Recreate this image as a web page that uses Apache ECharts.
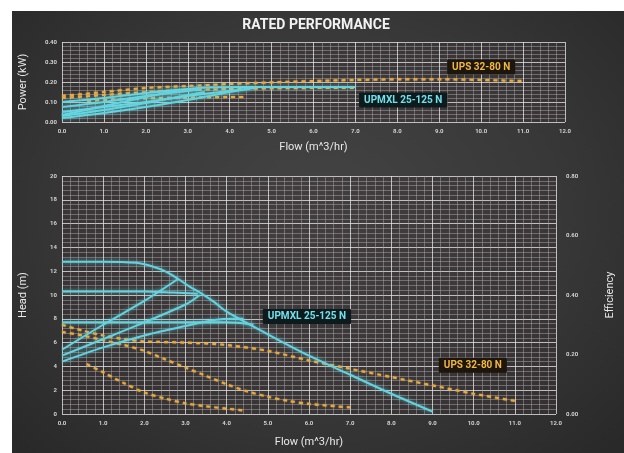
<!DOCTYPE html>
<html><head><meta charset="utf-8">
<script src="https://cdn.jsdelivr.net/npm/echarts@6/dist/echarts.min.js"></script>
<style>
html,body{margin:0;padding:0;background:#fff;width:624px;height:453px;overflow:hidden}
#bg{position:absolute;left:12px;top:11px;right:0;bottom:0;background:radial-gradient(ellipse at 50% 45%, #444 0%, #383838 55%, #282828 100%);}
#chart{position:absolute;left:0;top:0;width:624px;height:453px}
</style></head><body><div id="bg"></div><div id="chart"></div>
<script>
// ---- Head curves (m) vs flow (m^3/hr) : UPMXL 25-125 N ----
const headMax = [[0,12.8],[1,12.8],[1.8,12.7],[2.2,12.4],[2.5,12.0],[2.8,11.4],[3.1,10.7],[3.4,10.1],[3.7,9.4],[4.0,8.6],[5.0,6.7],[6.0,4.9],[7.0,3.3],[8.0,1.7],[9.0,0.2]];
const headConst2 = [[0,10.3],[1,10.3],[2,10.3],[2.7,10.2],[3.3,10.1]];
const headConst3 = [[0,7.7],[1,7.7],[2,7.7],[3,7.7],[4,7.7],[4.65,7.5]];
const headProp1 = [[0,5.4],[1,7.5],[2,9.5],[2.8,11.3]];
const headProp2 = [[0,4.9],[1,6.3],[2,7.7],[3,9.2],[3.35,10.0]];
const headProp3 = [[0,4.4],[1,5.6],[2,6.6],[3,7.4],[3.7,7.9],[4.2,8.0],[4.4,8.0]];
// ---- Head curves : UPS 32-80 N (3 speeds) ----
const upsHead3 = [[0,7.5],[0.5,7.0],[1,6.6],[1.5,6.3],[2,6.1],[3,6.0],[4,5.8],[5,5.3],[6,4.5],[7,3.8],[8,3.1],[9,2.4],[10,1.7],[11,1.1]];
const upsHead2 = [[0,6.9],[0.5,6.6],[1,6.2],[1.5,5.8],[2,5.3],[2.5,4.6],[3,3.9],[3.5,3.2],[4,2.5],[4.5,1.9],[5,1.45],[5.5,1.1],[6,0.85],[7,0.55]];
const upsHead1 = [[0.6,4.2],[1,3.5],[1.5,2.6],[2,1.8],[2.5,1.3],[3,0.9],[3.5,0.65],[4,0.45],[4.4,0.3]];
// ---- Power curves (kW) : UPMXL 25-125 N ----
const powMax = [[0,0.10],[1,0.12],[2,0.145],[3,0.165],[3.5,0.172],[4,0.175],[5,0.175],[6,0.175],[7,0.175]];
const powConst2 = [[0,0.075],[1,0.10],[2,0.13],[3,0.155],[3.3,0.163]];
const powConst3 = [[0,0.05],[1,0.075],[2,0.10],[3,0.13],[4,0.155],[4.6,0.17]];
const powProp1 = [[0,0.035],[1,0.08],[2,0.125],[2.8,0.16]];
const powProp2 = [[0,0.03],[1,0.06],[2,0.095],[3,0.135],[3.4,0.15]];
const powProp3 = [[0,0.02],[1,0.045],[2,0.075],[3,0.11],[4,0.15],[4.4,0.165]];
// ---- Power curves : UPS 32-80 N ----
const upsPow3 = [[0,0.13],[1,0.15],[2,0.17],[3,0.18],[4,0.19],[5,0.198],[6,0.205],[7,0.21],[8,0.213],[9,0.213],[10,0.21],[11,0.205]];
const upsPow2 = [[0,0.12],[1,0.135],[2,0.15],[3,0.16],[4,0.165],[5,0.168],[6,0.17],[7,0.17]];
const upsPow1 = [[0.6,0.105],[1,0.11],[2,0.118],[3,0.122],[4,0.125],[4.4,0.125]];

const titleText = 'RATED PERFORMANCE';
const flowName = 'Flow (m^3/hr)';
const upmxlName = 'UPMXL 25-125 N';
const upsName = 'UPS 32-80 N';

const FONT = 'Roboto, "DejaVu Sans", sans-serif';
const CYAN = '#63d3df';
const ORANGE = '#eaa83e';
const LBL = {color:'#d2d2d2', fontSize:6, fontFamily:FONT, fontWeight:'bold'};

function xAx(gi, gap){
  return {type:'value', gridIndex:gi, min:0, max:12, interval:1,
    name:flowName, nameLocation:'middle', nameGap:gap,
    nameTextStyle:{color:'#e8e8e8', fontSize:11, fontFamily:FONT},
    axisLine:{show:false}, axisTick:{show:false},
    axisLabel:Object.assign({margin:6, formatter:v=>v.toFixed(1)}, LBL),
    splitLine:{show:true, lineStyle:{color:'rgba(230,230,230,0.78)', width:1}},
    minorTick:{show:false, splitNumber:5},
    minorSplitLine:{show:true, lineStyle:{color:'rgba(165,165,165,0.5)', width:1}}};
}
function yAx(gi, min, max, interval, name, fmt, pos, extra){
  return Object.assign({type:'value', gridIndex:gi, min, max, interval, position:pos,
    name, nameLocation:'middle', nameGap:33,
    nameTextStyle:{color:'#e8e8e8', fontSize:11, fontFamily:FONT},
    axisLine:{show:false}, axisTick:{show:false},
    axisLabel:Object.assign({margin:5, formatter:fmt}, LBL),
    splitLine:{show:true, lineStyle:{color:'rgba(230,230,230,0.78)', width:1}},
    minorTick:{show:false, splitNumber:5},
    minorSplitLine:{show:true, lineStyle:{color:'rgba(165,165,165,0.5)', width:1}}}, extra||{});
}
function cyanLine(data, xi, yi, mp){
  const s = {type:'line', data, xAxisIndex:xi, yAxisIndex:yi, smooth:0.3, symbol:'none', z:5,
    lineStyle:{color:CYAN, width:2, shadowColor:'rgba(110,230,240,0.7)', shadowBlur:4}};
  if (mp) s.markPoint = mp;
  return s;
}
function orangeLine(data, xi, yi, mp){
  const s = {type:'line', data, xAxisIndex:xi, yAxisIndex:yi, smooth:0.3, symbol:'none', z:4,
    lineStyle:{color:ORANGE, width:2.2, type:[4,4], shadowColor:'rgba(240,200,90,0.6)', shadowBlur:2}};
  if (mp) s.markPoint = mp;
  return s;
}
function tag(text, coord, color, bg){
  return {symbol:'rect', symbolSize:0, silent:true, data:[{coord}],
    label:{show:true, position:'inside', formatter:text, color, backgroundColor:bg,
      fontSize:10, fontWeight:'bold', fontFamily:FONT, padding:[3,5,2,5], borderRadius:1}};
}

const chart = echarts.init(document.getElementById('chart'), null, {renderer:'canvas'});
chart.setOption({
  backgroundColor:'transparent',
  animation:false,
  title:{text:titleText, left:311, top:13, textAlign:'center',
    textStyle:{color:'#f2f2f2', fontSize:14, fontWeight:'bold', fontFamily:FONT}},
  grid:[
    {left:62, right:59, top:42, height:80, show:true, backgroundColor:'rgba(62,50,54,0.35)', borderWidth:0},
    {left:62, right:59, top:176, height:243, show:true, backgroundColor:'rgba(62,50,54,0.35)', borderWidth:0}
  ],
  xAxis:[xAx(0, 20), xAx(1, 23)],
  yAxis:[
    yAx(0, 0, 0.4, 0.1, 'Power (kW)', v=>v.toFixed(2), 'left'),
    yAx(1, 0, 20, 2, 'Head (m)', v=>String(v), 'left'),
    yAx(1, 0, 0.8, 0.2, 'Efficiency', v=>v.toFixed(2), 'right',
      {nameGap:49, axisLabel:Object.assign({margin:10, formatter:v=>v.toFixed(2)}, LBL),
       splitLine:{show:false}, minorSplitLine:{show:false}})
  ],
  series:[
    // power
    orangeLine(upsPow3, 0, 0, tag(upsName, [10.0, 0.275], '#f3b640', '#1c160c')),
    orangeLine(upsPow2, 0, 0),
    orangeLine(upsPow1, 0, 0),
    cyanLine(powMax, 0, 0, tag(upmxlName, [8.14, 0.11], '#6fe0ec', '#0e1b1d')),
    cyanLine(powConst2, 0, 0),
    cyanLine(powConst3, 0, 0),
    cyanLine(powProp1, 0, 0),
    cyanLine(powProp2, 0, 0),
    cyanLine(powProp3, 0, 0),
    // head
    orangeLine(upsHead3, 1, 1, tag(upsName, [9.98, 4.1], '#f3b640', '#1c160c')),
    orangeLine(upsHead2, 1, 1),
    orangeLine(upsHead1, 1, 1),
    cyanLine(headMax, 1, 1, tag(upmxlName, [5.95, 8.2], '#6fe0ec', '#0e1b1d')),
    cyanLine(headConst2, 1, 1),
    cyanLine(headConst3, 1, 1),
    cyanLine(headProp1, 1, 1),
    cyanLine(headProp2, 1, 1),
    cyanLine(headProp3, 1, 1)
  ]
});
</script></body></html>
